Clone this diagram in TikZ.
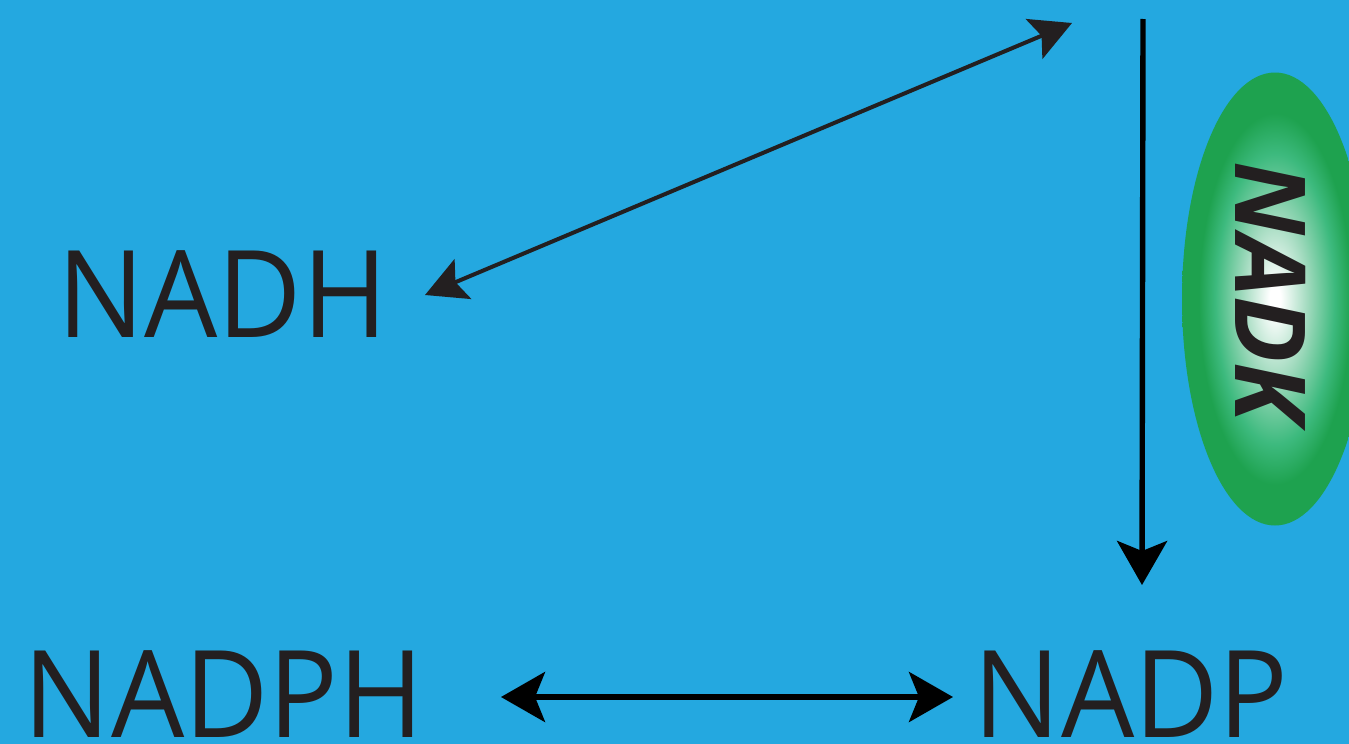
\documentclass[tikz,border=0pt]{standalone}
\usepackage{fontspec}
\setmainfont{Open Sans}
\usetikzlibrary{arrows.meta}
\definecolor{bgblue}{HTML}{24A8E0}
\definecolor{ink}{HTML}{231F20}
\definecolor{enzgreen}{HTML}{1EA24F}
\definecolor{enzmid}{HTML}{3DBA7E}
\definecolor{enzpale}{HTML}{9ED9BC}
% soft white core fading into the enzyme green
% (the central 25bp radius is what fills the shaded path)
\pgfdeclareradialshading{enzglow}{\pgfpoint{0bp}{0bp}}{%
  color(0bp)=(white); color(1.5bp)=(white); color(9bp)=(enzpale);
  color(16bp)=(enzmid); color(20.5bp)=(enzgreen); color(50bp)=(enzgreen)}

\begin{document}
\begin{tikzpicture}[x=0.5pt,y=-0.5pt,
  metab/.style={font=\fontsize{60.6}{60}\selectfont, text=ink,
    inner sep=0pt, anchor=base west, xscale=0.955},
  enzlabel/.style={font=\fontsize{49}{49}\selectfont\bfseries\itshape,
    text=ink, inner sep=0pt, rotate=-90},
  thin link/.style={draw=ink, line width=2pt,
    {Stealth[length=20.5pt,width=21.5pt,inset=4pt]}-{Stealth[length=20.5pt,width=21.5pt,inset=4pt]}},
  thick link/.style={draw=black, line width=2.7pt},
  bigtip/.tip={Stealth[length=22pt,width=25pt,inset=5pt]}]
\clip (0,0) rectangle (1349,744);
\fill[bgblue] (0,0) rectangle (1349,744);

% enzyme body
\shade[shading=enzglow] (1275,299) ellipse [x radius=93, y radius=226.5];

% metabolites and enzyme label
\node[metab] (nadh)  at (57,337)    {NADH};
\node[metab] (nadph) at (23.4,737)  {NADPH};
\node[metab] (nadp)  at (973.4,737) {NADP};
\node[enzlabel] (nadk) at (1271,292) {NADK};

% arrow end points
\coordinate (dA) at (425,295);
\coordinate (dB) at (1072,23);
\coordinate (vA) at (1143,19);
\coordinate (vB) at (1142,585);
\coordinate (hA) at (501,697);
\coordinate (hB) at (953,697);

\draw[thin link] (dA) -- (dB);
\draw[thick link, -bigtip] (vA) -- (vB);
\draw[thick link, bigtip-bigtip] (hA) -- (hB);
\end{tikzpicture}
\end{document}
